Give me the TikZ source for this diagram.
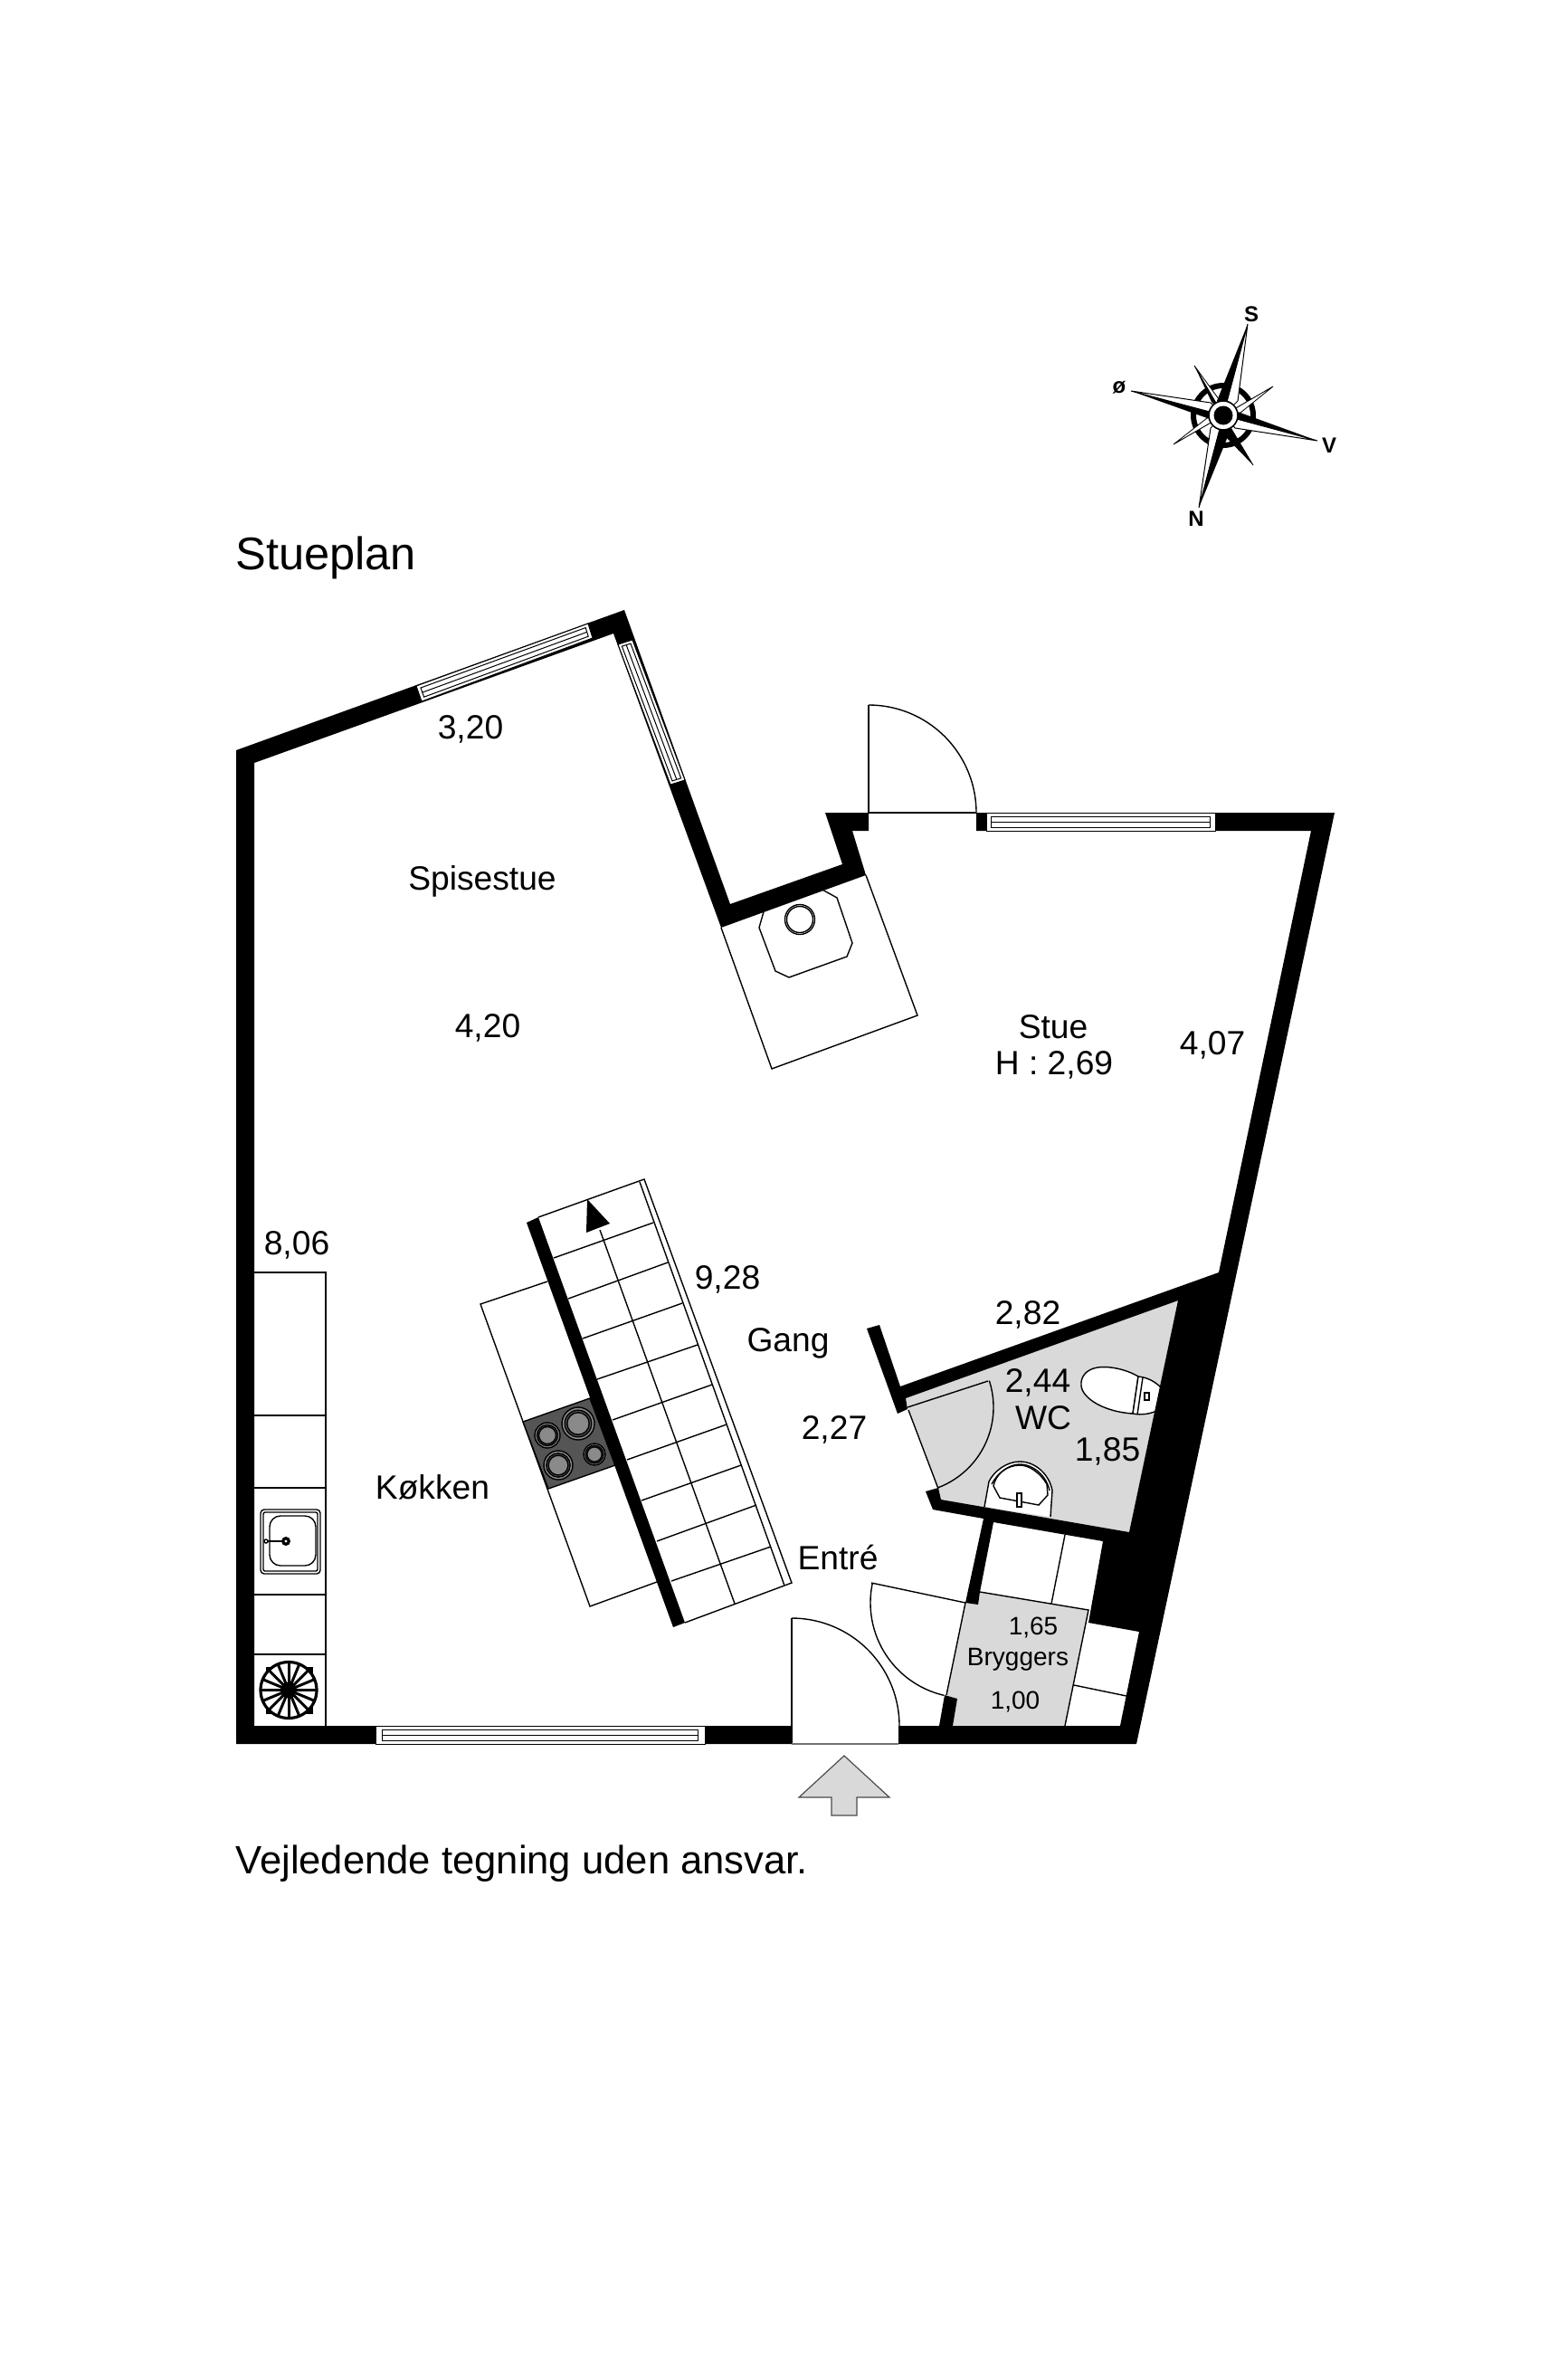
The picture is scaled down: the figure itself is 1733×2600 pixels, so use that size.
\documentclass[tikz,border=0pt]{standalone}
\usepackage{fontspec}
\setmainfont{Liberation Sans}
\usetikzlibrary{calc}
\definecolor{roomgray}{HTML}{D9D9D9}
\definecolor{hobgray}{HTML}{555555}
\definecolor{burnergray}{HTML}{8A8A8A}
\newcommand\darc[5]{\draw[thinline] plot[domain=#4:#5,samples=50] ({#1+#3*cos(\x)},{#2-#3*sin(\x)});}
\newcommand\fenster[4]{%
  \coordinate (wa) at #1; \coordinate (wb) at #2; \coordinate (wc) at #3; \coordinate (wd) at #4;
  \draw[winline,fill=white] (wa)--(wb)--(wc)--(wd)--cycle;
  \draw[winline] ($($(wa)!.02!(wb)$)!.2!($(wd)!.02!(wc)$)$) -- ($($(wa)!.98!(wb)$)!.2!($(wd)!.98!(wc)$)$)
    -- ($($(wa)!.98!(wb)$)!.8!($(wd)!.98!(wc)$)$) -- ($($(wa)!.02!(wb)$)!.8!($(wd)!.02!(wc)$)$) -- cycle;
  \draw[winline] ($($(wa)!.02!(wb)$)!.5!($(wd)!.02!(wc)$)$) -- ($($(wa)!.98!(wb)$)!.5!($(wd)!.98!(wc)$)$);
}
\newcommand\fs[1]{\fontsize{#1}{#1}\selectfont}
\tikzset{
  thinline/.style={line width=0.7pt,black},
  winline/.style={line width=0.5pt,black},
  wallfill/.style={fill=black,draw=none},
  lbl/.style={inner sep=0pt,font=\fs{18.6}},
  smalllbl/.style={inner sep=0pt,font=\fs{14}},
  compasslbl/.style={inner sep=0pt,font=\fs{12}\bfseries},
}
\begin{document}
\begin{tikzpicture}[x=0.5pt,y=-0.5pt]
\useasboundingbox[fill=white] (0,0) rectangle (1733,2600);

% grey rooms
\fill[roomgray] (1001,1545)--(1302,1437)--(1248,1693)--(1040,1657)--(1037,1645)--(1004,1558)--cycle;
\fill[roomgray] (1083,1759)--(1203,1779)--(1177,1907)--(1053,1907)--(1058,1877)--(1046,1873)--(1067,1771)--cycle;
\draw[thinline] (1083,1759)--(1203,1779)--(1177,1907);
\draw[thinline] (1067,1771)--(1046,1873);
\draw[thinline] (1004,1558)--(1037,1645);

% closets
\draw[thinline] (1177,1696)--(1162,1772);
\draw[thinline] (1187,1862)--(1245,1874);

% fireplace
\draw[thinline] (797,1025)--(853,1181)--(1014,1122)--(957,967);
\draw[thinline] (845,1004)--(839,1025)--(857,1073)--(872,1080)--(936,1057)--(942,1042)--(925,992)--(907,982);
\draw[thinline] (884,1016) circle (16.5);
\draw[thinline] (884,1016) circle (14.5);

% kitchen counter along the wall
\draw[thinline] (281,1406)--(360,1406)--(360,1907);
\foreach \yy in {1564,1644,1762,1828} \draw[thinline] (281,\yy)--(360,\yy);
% sink
\draw[thinline,rounded corners=2pt] (288,1668) rectangle (354,1739);
\draw[thinline,rounded corners=1pt] (291,1671) rectangle (351,1736);
\draw[thinline,rounded corners=6pt] (298,1675) rectangle (349,1730);
\draw[line width=1.3pt] (294,1703)--(316,1703);
\draw[thinline,fill=white] (294,1703) circle (2);
\fill (316,1703) circle (5);
\fill[white] (316,1703) circle (1.6);
% extractor
\fill (294,1842) rectangle (346,1894);
\fill[white] (319,1867.5) circle (31);
\draw[line width=1.6pt] (319,1867.5) circle (31);
\foreach \aa in {0,22.5,...,337.5} \draw[line width=1.5pt] (319,1867.5)--({319+31*cos(\aa)},{1867.5+31*sin(\aa)});
\fill (319,1867.5) circle (9);

% kitchen island and hob
\draw[thinline] (605,1416)--(531,1441)--(652,1775)--(726,1748);
\fill[hobgray] (652,1545)--(578,1571)--(606,1645)--(680,1619)--cycle;
\draw[thinline] (652,1545)--(578,1571)--(606,1645)--(680,1619)--cycle;
\foreach \bx/\by/\br in {639/1573/18,605/1586/14,617/1619/16,657/1607/12}{
  \draw[thinline,fill=burnergray] (\bx,\by) circle (\br);
  \draw[thinline,fill=hobgray] (\bx,\by) circle ({\br*0.82});
  \draw[thinline,fill=burnergray] (\bx,\by) circle ({\br*0.68});
}

% stairs
\draw[thinline] (595,1345)--(712,1303)--(875,1749)--(757,1793);
\draw[thinline] (707,1306)--(867,1752);
\draw[thinline] (612,1390)--(722,1351);
\draw[thinline] (628,1435)--(738,1395);
\draw[thinline] (644,1479)--(754,1440);
\draw[thinline] (660,1524)--(771,1486);
\draw[thinline] (677,1569)--(787,1530);
\draw[thinline] (693,1613)--(803,1574);
\draw[thinline] (709,1658)--(819,1619);
\draw[thinline] (726,1703)--(836,1663);
\draw[thinline] (742,1747)--(852,1709);
\draw[thinline] (663,1359)--(812,1772);
\fill (649,1325)--(674,1352)--(648,1362)--cycle;
\fill (582,1351)--(595,1345)--(757,1793)--(744,1798)--cycle;

% wc fixtures
\draw[thinline,fill=white] (1258,1521) .. controls (1245,1513) and (1225,1509) .. (1213,1511)
  .. controls (1200,1513) and (1194,1522) .. (1195,1531)
  .. controls (1196,1545) and (1220,1560) .. (1252,1562) -- cycle;
\draw[thinline,fill=white] (1258,1521) .. controls (1268,1522) and (1276,1526) .. (1284,1534)
  -- (1278,1559) .. controls (1272,1562) and (1262,1564) .. (1252,1562) -- cycle;
\draw[thinline] (1263,1522)--(1257,1563);
\draw[thinline,fill=white] (1265,1539) rectangle (1270,1547);
\draw[thinline,fill=white] (1088,1665)--(1093,1637) .. controls (1099,1625) and (1113,1615) .. (1127,1615)
  .. controls (1145,1615) and (1160,1630) .. (1163,1647)--(1161,1676);
\draw[thinline] (1096,1640) .. controls (1102,1628) and (1115,1618) .. (1127,1618)
  .. controls (1143,1618) and (1157,1632) .. (1160,1647);
\draw[thinline,fill=white] (1098,1642)--(1105,1655)--(1148,1663)--(1158,1652)--(1157,1640)
  .. controls (1150,1628) and (1138,1619) .. (1127,1619) .. controls (1112,1619) and (1100,1630) .. (1098,1642);
\draw[thinline,fill=white] (1124,1650) rectangle (1129,1665);

% doors
\draw[thinline] (960,898)--(960,779);
\darc{960}{898}{119}{90}{0}
\draw[thinline] (960,898)--(1079,898);
\draw[thinline] (875,1927)--(875,1788);
\darc{875}{1907}{119}{90}{0}
\draw[line width=0.7pt,black!55] (875,1927)--(993,1927);
\draw[thinline] (1067,1771)--(963,1749);
\darc{1067}{1771}{105}{168}{257}
\draw[thinline] (1003,1555)--(1092,1526);
\darc{1003}{1555}{95}{18}{-69}

% walls
\path[wallfill] (261,829)--(690,674)--(807,999)--(931,955)--(912,898)--(960,898)--(960,918)--(942,918)--(957,967)--(797,1025)--(678,700)--(281,843)--(281,1907)--(875,1907)--(875,1927)--(261,1927)--cycle;
\path[wallfill] (1079,898)--(1475,898)--(1256,1927)--(993,1927)--(993,1907)--(1038,1907)--(1044,1873)--(1058,1877)--(1053,1907)--(1238,1907)--(1259,1803)--(1203,1793)--(1219,1703)--(1098,1682)--(1083,1759)--(1081,1773)--(1067,1771)--(1087,1678)--(1031,1668)--(1023,1648)--(1037,1644)--(1040,1657)--(1248,1693)--(1302,1437)--(1001,1545)--(1003,1557)--(992,1562)--(958,1468)--(972,1464)--(995,1532)--(1347,1406)--(1449,918)--(1079,918)--cycle;

% windows
\fenster{(460,758)}{(650,689)}{(655,705)}{(466,775)}
\fenster{(699,707)}{(757,862)}{(741,867)}{(683,712)}
\fenster{(1090,898)}{(1343,898)}{(1343,918)}{(1090,918)}
\fenster{(415,1907)}{(779,1907)}{(779,1927)}{(415,1927)}

% entrance arrow
\draw[line width=0.6pt,black!70,fill=roomgray] (933,1940)--(983,1986)--(947,1986)--(947,2006)--(919,2006)--(919,1986)--(883,1986)--cycle;

% compass
\draw[line width=3pt] (1352,459) circle (33);
\foreach \tx/\ty/\bx/\by/\wx/\wy in {1320/404/1339/444/1347/441, 1407/427/1368/450/1371/456, 1385/514/1350/478/1360/474, 1297/491/1337/468/1334/462}{
  \draw[line width=0.4pt,fill=white] (\tx,\ty)--(\wx,\wy)--(1352,459)--cycle;
  \fill (\tx,\ty)--(\bx,\by)--(1352,459)--cycle;
}
\foreach \tx/\ty/\bx/\by/\wx/\wy in {1379/358/1345/443/1368/443, 1325/561/1360/475/1338/473, 1250/432/1337/463/1338/445, 1456/487/1368/455/1365/473}{
  \draw[line width=0.5pt,fill=white] (\tx,\ty)--(\wx,\wy)--(1352,459)--cycle;
  \fill (\tx,\ty)--(\bx,\by)--(1352,459)--cycle;
}
\fill[white] (1352,459) circle (16);
\draw[line width=0.8pt] (1352,459) circle (16);
\fill (1352,459) circle (10.5);
\node[compasslbl] (cs) at (1383,347) {S};
\node[compasslbl] (cn) at (1322,573) {N};
\node[compasslbl] (co) at (1237,428) {ø};
\node[compasslbl] (cv) at (1469,492) {V};

% texts
\node[inner sep=0pt,anchor=west,font=\fs{25.3}] (title) at (260,616) {Stueplan};
\node[inner sep=0pt,anchor=west,font=\fs{21.8}] (note) at (260,2059) {Vejledende tegning uden ansvar.};
\node[lbl] (t320) at (520,806) {3,20};
\node[lbl] (tspis) at (533,974) {Spisestue};
\node[lbl] (t420) at (539,1136) {4,20};
\node[lbl] (tstue) at (1164,1135) {Stue};
\node[lbl] (th) at (1165,1177) {H : 2,69};
\node[lbl] (t407) at (1340,1155) {4,07};
\node[lbl] (t806) at (328,1376) {8,06};
\node[lbl] (t928) at (804,1414) {9,28};
\node[lbl] (tgang) at (871,1484) {Gang};
\node[lbl] (t282) at (1136,1453) {2,82};
\node[lbl] (t244) at (1147,1528) {2,44};
\node[lbl] (twc) at (1153,1567) {WC};
\node[lbl] (t185) at (1224,1604) {1,85};
\node[lbl] (t227) at (922,1580) {2,27};
\node[lbl] (tkok) at (478,1643) {Køkken};
\node[lbl] (tent) at (926,1721) {Entré};
\node[smalllbl] (t165) at (1142,1798) {1,65};
\node[smalllbl] (tbry) at (1125,1834) {Bryggers};
\node[smalllbl] (t100) at (1122,1880) {1,00};
\end{tikzpicture}
\end{document}
